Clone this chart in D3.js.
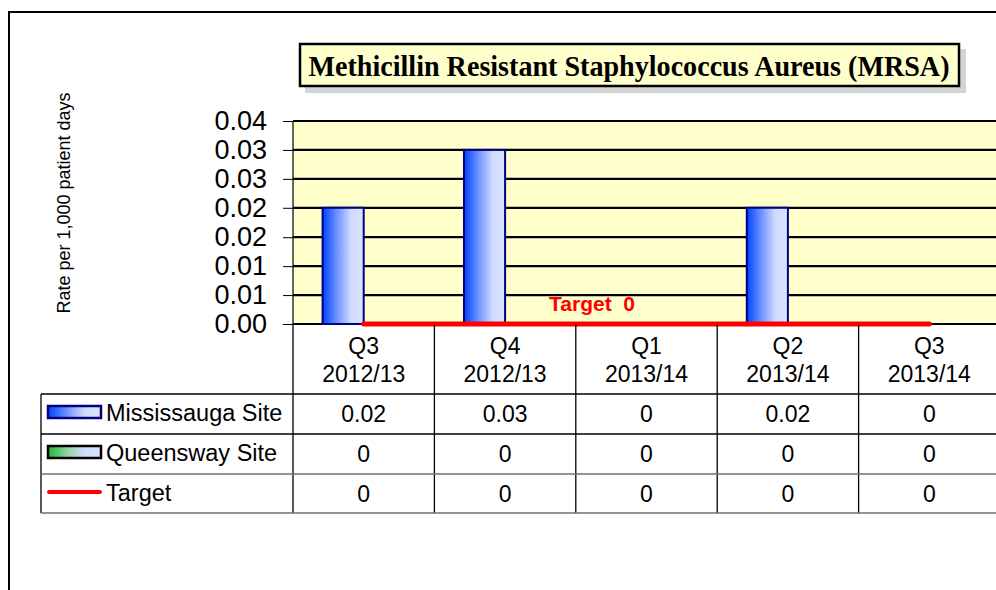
<!DOCTYPE html>
<html>
<head>
<meta charset="utf-8">
<script src="https://cdn.jsdelivr.net/npm/d3@7"></script>
<style>
  body { margin: 0; background: #fff; }
  svg { display: block; }
  text { font-family: "Liberation Sans", Arial, sans-serif; fill: #000; }
</style>
</head>
<body>
<svg id="chart"></svg>
<script>
const quarters = ["Q3", "Q4", "Q1", "Q2", "Q3"];
const years = ["2012/13", "2012/13", "2013/14", "2013/14", "2013/14"];
const mississauga = [0.0229, 0.0343, 0, 0.0229, 0];
const queensway = [0, 0, 0, 0, 0];
const target = [0, 0, 0, 0, 0];
const seriesNames = ["Mississauga Site", "Queensway Site", "Target"];
const yTicks = [0, 0.0057, 0.0114, 0.0171, 0.0229, 0.0286, 0.0343, 0.04];

const svgWidth = 996;
const svgHeight = 590;

const svg = d3.select("#chart")
  .attr("width", svgWidth)
  .attr("height", svgHeight);

const categories = quarters.map((q, i) => q + " " + years[i]);

const x = d3.scaleBand()
  .domain(categories)
  .range([293, 1000])
  .padding(0);

const xSub = d3.scaleBand()
  .domain(seriesNames.slice(0, 2))
  .range([0, x.bandwidth()])
  .paddingInner(0)
  .paddingOuter(0.72);

const y = d3.scaleLinear()
  .domain([0, 0.04])
  .range([324, 121]);

// gradients
const defs = svg.append("defs");
function grad(id, c0, c1) {
  const g = defs.append("linearGradient").attr("id", id)
    .attr("x1", "0%").attr("x2", "100%").attr("y1", "0%").attr("y2", "0%");
  g.append("stop").attr("offset", "0%").attr("stop-color", c0);
  g.append("stop").attr("offset", "40%").attr("stop-color", c1);
  g.append("stop").attr("offset", "70%").attr("stop-color", "#d0dcff");
  g.append("stop").attr("offset", "100%").attr("stop-color", "#dae3ff");
}
grad("blueGrad", "#0044ff", "#7d9cff");
grad("greenGrad", "#1fb832", "#9fd3b0");

// outer frame
svg.append("path")
  .attr("d", "M9,590V12H996")
  .attr("fill", "none")
  .attr("stroke", "#000")
  .attr("stroke-width", 2);

// title box
svg.append("rect")
  .attr("x", 305).attr("y", 49).attr("width", 661).attr("height", 44)
  .attr("fill", "#d4d4d4");
svg.append("rect")
  .attr("x", 300).attr("y", 44).attr("width", 659).attr("height", 42)
  .attr("fill", "#ffffcc")
  .attr("stroke", "#000")
  .attr("stroke-width", 2.5);
svg.append("text")
  .attr("x", 629).attr("y", 76)
  .attr("text-anchor", "middle")
  .style("font-family", "'Liberation Serif', 'Times New Roman', serif")
  .style("font-weight", "bold")
  .style("font-size", "30px")
  .attr("textLength", 641)
  .attr("lengthAdjust", "spacingAndGlyphs")
  .text("Methicillin Resistant Staphylococcus Aureus (MRSA)");

// plot background
svg.append("rect")
  .attr("x", 293).attr("y", y(0.04))
  .attr("width", 707).attr("height", y(0) - y(0.04))
  .attr("fill", "#ffffcc");

// gridlines
svg.append("g")
  .selectAll("line")
  .data(yTicks)
  .enter()
  .append("line")
  .attr("x1", 293).attr("x2", 1000)
  .attr("y1", d => y(d)).attr("y2", d => y(d))
  .attr("stroke", "#000")
  .attr("stroke-width", 2.2);

// y axis
const yAxis = d3.axisLeft(y)
  .tickValues(yTicks)
  .tickFormat(d3.format(".2f"))
  .tickSize(10)
  .tickPadding(16);

const yG = svg.append("g")
  .attr("transform", "translate(293,0)")
  .call(yAxis);
yG.select(".domain").attr("stroke", "#000").attr("stroke-width", 1.2).attr("d", `M0,${y(0.04)}V${y(0)}`);
yG.selectAll(".tick line").attr("stroke", "#000");
yG.selectAll(".tick text")
  .style("font-family", "'Liberation Sans', Arial, sans-serif")
  .style("font-size", "27px")
  .attr("fill", "#000");

// y axis title
svg.append("text")
  .attr("transform", "translate(70,203) rotate(-90)")
  .attr("text-anchor", "middle")
  .style("font-size", "18px")
  .text("Rate per 1,000 patient days");

// bars
const barData = [];
categories.forEach((c, i) => {
  barData.push({ cat: c, series: seriesNames[0], value: mississauga[i], fill: "url(#blueGrad)", stroke: "#000080" });
  barData.push({ cat: c, series: seriesNames[1], value: queensway[i], fill: "url(#greenGrad)", stroke: "#000" });
});

svg.append("g")
  .selectAll("rect")
  .data(barData.filter(d => d.value > 0))
  .enter()
  .append("rect")
  .attr("x", d => x(d.cat) + xSub(d.series))
  .attr("y", d => y(d.value))
  .attr("width", xSub.bandwidth())
  .attr("height", d => y(0) - y(d.value))
  .attr("fill", d => d.fill)
  .attr("stroke", d => d.stroke)
  .attr("stroke-width", 2);

// target line
const line = d3.line()
  .x((d, i) => x(categories[i]) + x.bandwidth() / 2)
  .y(d => y(d));

svg.append("path")
  .datum(target)
  .attr("d", line)
  .attr("fill", "none")
  .attr("stroke", "#ff0000")
  .attr("stroke-width", 5)
  .attr("stroke-linecap", "round");

svg.append("text")
  .attr("x", 592).attr("y", 311)
  .attr("text-anchor", "middle")
  .style("font-size", "21px")
  .style("font-weight", "bold")
  .style("white-space", "pre")
  .style("fill", "#ff0000")
  .text("Target  " + target[0]);

// data table
const rowTops = [394, 434, 474, 513];
const tableRight = 1000;

const tbl = svg.append("g");

tbl.selectAll("line.col")
  .data(categories)
  .enter()
  .append("line")
  .attr("class", "col")
  .attr("x1", d => x(d)).attr("x2", d => x(d))
  .attr("y1", y(0)).attr("y2", rowTops[3])
  .attr("stroke", "#000")
  .attr("stroke-width", 1.3);

tbl.append("line")
  .attr("x1", 41).attr("x2", 41)
  .attr("y1", rowTops[0]).attr("y2", rowTops[3])
  .attr("stroke", "#000").attr("stroke-width", 1.3);

tbl.selectAll("line.row")
  .data(rowTops)
  .enter()
  .append("line")
  .attr("class", "row")
  .attr("x1", 41).attr("x2", tableRight)
  .attr("y1", d => d).attr("y2", d => d)
  .attr("stroke", (d, i) => i >= 2 ? "#707070" : "#000")
  .attr("stroke-width", 1.3);

// header labels
const head = tbl.selectAll("g.head")
  .data(categories)
  .enter()
  .append("g")
  .attr("class", "head");
head.append("text")
  .attr("x", d => x(d) + x.bandwidth() / 2)
  .attr("y", 354)
  .attr("text-anchor", "middle")
  .style("font-size", "23px")
  .text((d, i) => quarters[i]);
head.append("text")
  .attr("x", d => x(d) + x.bandwidth() / 2)
  .attr("y", 382)
  .attr("text-anchor", "middle")
  .style("font-size", "23px")
  .text((d, i) => years[i]);

const fmt = v => v === 0 ? "0" : v.toFixed(2);
const rows = [mississauga, queensway, target];

rows.forEach((vals, r) => {
  tbl.append("g")
    .selectAll("text")
    .data(vals)
    .enter()
    .append("text")
    .attr("x", (d, i) => x(categories[i]) + x.bandwidth() / 2)
    .attr("y", rowTops[r] + 28)
    .attr("text-anchor", "middle")
    .style("font-size", "23px")
    .text(d => fmt(d));
});

// legend keys in the table
tbl.append("rect")
  .attr("x", 48).attr("y", 406).attr("width", 53).attr("height", 12)
  .attr("fill", "url(#blueGrad)").attr("stroke", "#000080").attr("stroke-width", 2.5);
tbl.append("rect")
  .attr("x", 48).attr("y", 446).attr("width", 53).attr("height", 12)
  .attr("fill", "url(#greenGrad)").attr("stroke", "#000").attr("stroke-width", 2.5);
tbl.append("line")
  .attr("x1", 49).attr("x2", 100).attr("y1", 492).attr("y2", 492)
  .attr("stroke", "#ff0000").attr("stroke-width", 4).attr("stroke-linecap", "round");

tbl.selectAll("text.leg")
  .data(seriesNames)
  .enter()
  .append("text")
  .attr("class", "leg")
  .attr("x", 106)
  .attr("y", (d, i) => rowTops[i] + 27)
  .style("font-size", "23.5px")
  .text(d => d);
</script>
</body>
</html>
